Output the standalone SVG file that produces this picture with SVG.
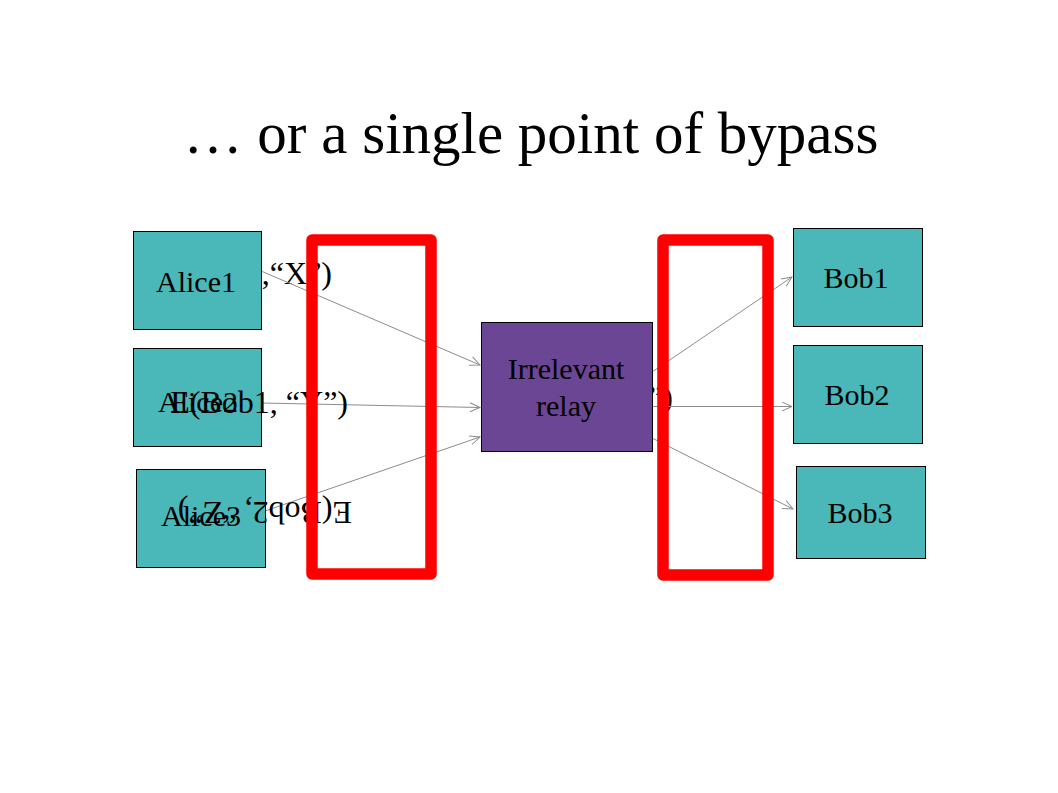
<svg xmlns="http://www.w3.org/2000/svg" width="1058" height="793" viewBox="0 0 1058 793">
  <style>
    text { font-family: "Liberation Serif", "Times New Roman", serif; fill: #000; }
    .title { font-size: 59px; text-anchor: middle; }
    .lbl { font-size: 30px; text-anchor: middle; }
    .elbl { font-size: 32px; }
    .teal { fill: #4AB8B8; stroke: #000; stroke-width: 1; }
    .purple { fill: #6B4694; stroke: #000; stroke-width: 1; }
    .conn { stroke: #8C8C8C; stroke-width: 1; fill: none; marker-end: url(#arr); }
    .red { fill: none; stroke: #FF0000; stroke-width: 11.5; stroke-linejoin: round; }
  </style>
  <defs>
    <marker id="arr" markerUnits="userSpaceOnUse" markerWidth="14" markerHeight="12" refX="11" refY="5" orient="auto">
      <path d="M1,0.5 L11,5 L1,9.5" fill="none" stroke="#8C8C8C" stroke-width="1"/>
    </marker>
  </defs>
  <rect width="1058" height="793" fill="#fff"/>

  <text class="title" x="531" y="153">… or a single point of bypass</text>

  <!-- labels partly hidden behind nodes -->
  <g id="hidden-labels">
    <text class="elbl" x="332" y="284" text-anchor="end">E(Bob1,“X”)</text>
    <text class="elbl" x="673" y="408" text-anchor="end">E(Bob2, “Z”)</text>
  </g>

  <g id="connectors">
    <line class="conn" x1="261" y1="271" x2="480" y2="365"/>
    <line class="conn" x1="261" y1="403" x2="480" y2="407.5"/>
    <line class="conn" x1="265" y1="511" x2="480" y2="437"/>
    <line class="conn" x1="652" y1="372" x2="792" y2="277"/>
    <line class="conn" x1="652" y1="406.5" x2="792" y2="406.5"/>
    <line class="conn" x1="652" y1="438" x2="793" y2="509"/>
  </g>

  <g id="alice1">
    <rect class="teal" x="133.5" y="231.5" width="128" height="98"/>
    <text class="lbl" x="196" y="292">Alice1</text>
  </g>
  <g id="alice2">
    <rect class="teal" x="133.5" y="348.5" width="128" height="98"/>
    <text class="lbl" x="198" y="412">Alice2</text>
  </g>
  <g id="alice3">
    <rect class="teal" x="136.5" y="469.5" width="129" height="98"/>
    <text class="lbl" x="201" y="526">Alice3</text>
  </g>
  <g id="relay">
    <rect class="purple" x="481.5" y="322.5" width="171" height="129"/>
    <text class="lbl" x="566" y="379">Irrelevant</text>
    <text class="lbl" x="566" y="416">relay</text>
  </g>
  <g id="bob1">
    <rect class="teal" x="793.5" y="228.5" width="129" height="98"/>
    <text class="lbl" x="856" y="288">Bob1</text>
  </g>
  <g id="bob2">
    <rect class="teal" x="793.5" y="345.5" width="129" height="98"/>
    <text class="lbl" x="857" y="405">Bob2</text>
  </g>
  <g id="bob3">
    <rect class="teal" x="796.5" y="466.5" width="129" height="92"/>
    <text class="lbl" x="860" y="523">Bob3</text>
  </g>

  <g id="edge-labels">
    <text class="elbl" x="348" y="413" text-anchor="end">E(Bob1, “Y”)</text>
    <text class="elbl" transform="translate(352,502) rotate(180)" x="0" y="0">E(Bob2, “Z”)</text>
  </g>

  <g id="red-boxes">
    <rect class="red" x="312" y="240" width="119" height="334"/>
    <rect class="red" x="663" y="240" width="105" height="335"/>
  </g>
</svg>
